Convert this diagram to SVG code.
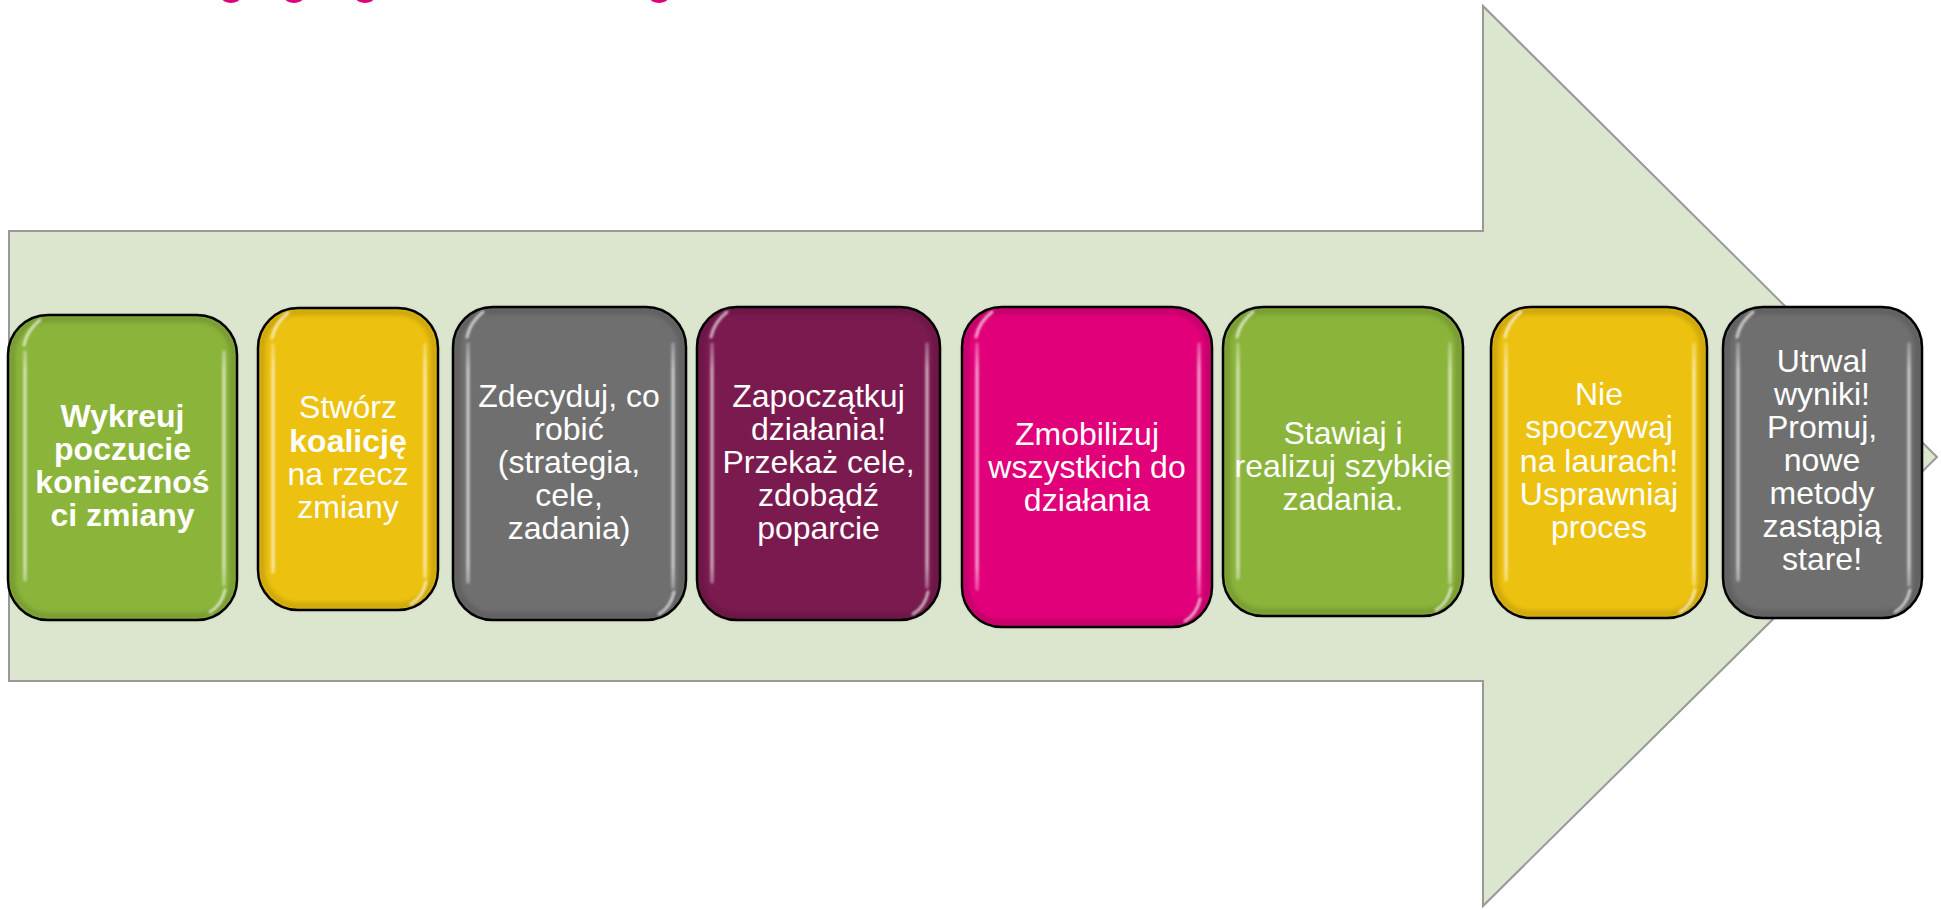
<svg xmlns="http://www.w3.org/2000/svg" width="1941" height="910" viewBox="0 0 1941 910">
<style>
.t{font-family:"Liberation Sans",Arial,sans-serif;font-size:32px;fill:#fff;text-anchor:middle}
.b{font-weight:bold}
.box{stroke:#000;stroke-width:2.5}
.edge{fill:none;stroke:#000;stroke-opacity:0.18;stroke-width:5;filter:url(#blur2)}
.hl{fill:none;stroke:url(#hlg);stroke-width:3.5;stroke-linecap:round;filter:url(#blur1)}
.hc{fill:none;stroke:#fff;stroke-opacity:0.65;stroke-width:3;stroke-linecap:round;filter:url(#blur1)}
</style>
<defs>
<filter id="blur1" filterUnits="userSpaceOnUse" x="0" y="0" width="1941" height="910"><feGaussianBlur stdDeviation="0.8"/></filter>
<filter id="blur2" filterUnits="userSpaceOnUse" x="0" y="0" width="1941" height="910"><feGaussianBlur stdDeviation="2.5"/></filter>
<linearGradient id="hlg" gradientUnits="userSpaceOnUse" x1="0" y1="340" x2="0" y2="595">
<stop offset="0" stop-color="#fff" stop-opacity="0.25"/>
<stop offset="0.12" stop-color="#fff" stop-opacity="0.6"/>
<stop offset="0.88" stop-color="#fff" stop-opacity="0.6"/>
<stop offset="1" stop-color="#fff" stop-opacity="0.25"/>
</linearGradient>
</defs>
<rect width="1941" height="910" fill="#fff"/>
<g id="title-fragments" fill="#E2007A">
<ellipse cx="231" cy="-2" rx="9" ry="5"/>
<ellipse cx="294" cy="-2" rx="9" ry="5"/>
<ellipse cx="365" cy="-2" rx="9" ry="5"/>
<ellipse cx="659" cy="-2" rx="9" ry="5"/>
</g>
<g id="arrow">
<path d="M9,231 H1483 V6 L1937,457 L1483,906 V681 H9 Z" fill="#DCE5CE" stroke="#999" stroke-width="2"/>
</g>
<g id="connectors"></g>
<g id="n1">
<rect class="box" x="8" y="315" width="229" height="305" rx="40" fill="#8BB43B"/>
<rect class="edge" x="12" y="319" width="221" height="297" rx="36"/>
<path class="hl" d="M25,352 V580"/><path class="hc" d="M24,345 Q27,330 40,320"/>
<path class="hl" d="M224,352 V585"/><path class="hc" d="M225,590 Q222,605 210,612"/>
<text class="t b" font-size="31" x="122.5" y="427">Wykreuj</text>
<text class="t b" font-size="31" x="122.5" y="460">poczucie</text>
<text class="t b" font-size="31" x="122.5" y="493">koniecznoś</text>
<text class="t b" font-size="31" x="122.5" y="526">ci zmiany</text>
</g>
<g id="n2">
<rect class="box" x="258" y="308" width="180" height="302" rx="40" fill="#EDC10F"/>
<rect class="edge" x="262" y="312" width="172" height="294" rx="36"/>
<path class="hl" d="M273,345 V572"/><path class="hc" d="M272,338 Q275,323 288,313"/>
<path class="hl" d="M425,345 V577"/><path class="hc" d="M426,582 Q423,597 411,604"/>
<text class="t" x="348" y="418">Stwórz</text>
<text class="t b" x="348" y="451.5">koalicję</text>
<text class="t" x="348" y="485">na rzecz</text>
<text class="t" x="348" y="518">zmiany</text>
</g>
<g id="n3">
<rect class="box" x="453" y="307" width="233" height="313" rx="40" fill="#6F6F6F"/>
<rect class="edge" x="457" y="311" width="225" height="305" rx="36"/>
<path class="hl" d="M468,344 V582"/><path class="hc" d="M467,337 Q470,322 483,312"/>
<path class="hl" d="M673,344 V587"/><path class="hc" d="M674,592 Q671,607 659,614"/>
<text class="t" x="569" y="407">Zdecyduj, co</text>
<text class="t" x="569" y="440">robić</text>
<text class="t" x="569" y="473">(strategia,</text>
<text class="t" x="569" y="506">cele,</text>
<text class="t" x="569" y="539">zadania)</text>
</g>
<g id="n4">
<rect class="box" x="697" y="307" width="243" height="313" rx="40" fill="#7B1A4F"/>
<rect class="edge" x="701" y="311" width="235" height="305" rx="36"/>
<path class="hl" d="M712,344 V582"/><path class="hc" d="M711,337 Q714,322 727,312"/>
<path class="hl" d="M927,344 V587"/><path class="hc" d="M928,592 Q925,607 913,614"/>
<text class="t" x="818.5" y="407">Zapoczątkuj</text>
<text class="t" x="818.5" y="440">działania!</text>
<text class="t" x="818.5" y="473">Przekaż cele,</text>
<text class="t" x="818.5" y="506">zdobądź</text>
<text class="t" x="818.5" y="539">poparcie</text>
</g>
<g id="n5">
<rect class="box" x="962" y="307" width="250" height="320" rx="40" fill="#E2007A"/>
<rect class="edge" x="966" y="311" width="242" height="312" rx="36"/>
<path class="hl" d="M977,344 V589"/><path class="hc" d="M976,337 Q979,322 992,312"/>
<path class="hl" d="M1199,344 V594"/><path class="hc" d="M1200,599 Q1197,614 1185,621"/>
<text class="t" x="1087" y="445">Zmobilizuj</text>
<text class="t" x="1087" y="478">wszystkich do</text>
<text class="t" x="1087" y="511">działania</text>
</g>
<g id="n6">
<rect class="box" x="1223" y="307" width="240" height="309" rx="40" fill="#8BB43B"/>
<rect class="edge" x="1227" y="311" width="232" height="301" rx="36"/>
<path class="hl" d="M1238,344 V578"/><path class="hc" d="M1237,337 Q1240,322 1253,312"/>
<path class="hl" d="M1450,344 V583"/><path class="hc" d="M1451,588 Q1448,603 1436,610"/>
<text class="t" font-size="29" x="1343" y="444">Stawiaj i</text>
<text class="t" font-size="29" x="1343" y="477">realizuj szybkie</text>
<text class="t" font-size="29" x="1343" y="510">zadania.</text>
</g>
<g id="n7">
<rect class="box" x="1491" y="307" width="216" height="311" rx="40" fill="#EDC10F"/>
<rect class="edge" x="1495" y="311" width="208" height="303" rx="36"/>
<path class="hl" d="M1506,344 V580"/><path class="hc" d="M1505,337 Q1508,322 1521,312"/>
<path class="hl" d="M1694,344 V585"/><path class="hc" d="M1695,590 Q1692,605 1680,612"/>
<text class="t" x="1599" y="405">Nie</text>
<text class="t" x="1599" y="438">spoczywaj</text>
<text class="t" x="1599" y="471.5">na laurach!</text>
<text class="t" x="1599" y="505">Usprawniaj</text>
<text class="t" x="1599" y="537.5">proces</text>
</g>
<g id="n8">
<rect class="box" x="1723" y="307" width="199" height="311" rx="40" fill="#6F6F6F"/>
<rect class="edge" x="1727" y="311" width="191" height="303" rx="36"/>
<path class="hl" d="M1738,344 V580"/><path class="hc" d="M1737,337 Q1740,322 1753,312"/>
<path class="hl" d="M1909,344 V585"/><path class="hc" d="M1910,590 Q1907,605 1895,612"/>
<text class="t" x="1822" y="372">Utrwal</text>
<text class="t" x="1822" y="405">wyniki!</text>
<text class="t" x="1822" y="438">Promuj,</text>
<text class="t" x="1822" y="471">nowe</text>
<text class="t" x="1822" y="504">metody</text>
<text class="t" x="1822" y="537">zastąpią</text>
<text class="t" x="1822" y="570">stare!</text>
</g>
</svg>
